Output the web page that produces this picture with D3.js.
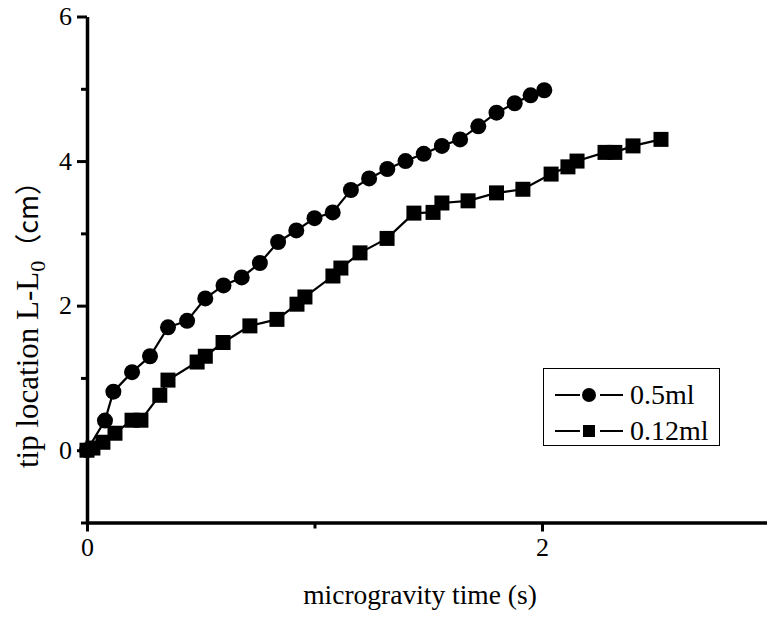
<!DOCTYPE html>
<html>
<head>
<meta charset="utf-8">
<script src="https://cdn.jsdelivr.net/npm/d3@7"></script>
<style>
  html, body { margin: 0; padding: 0; background: #fff; }
  svg { display: block; font-family: "Liberation Serif", "Times New Roman", serif; }
  .axis path, .axis line { stroke: #000; }
</style>
</head>
<body>
<div id="chart"></div>
<script>
// 0.5ml series (circles)
const timeA = [0, 0.079, 0.116, 0.198, 0.277, 0.356, 0.44, 0.52, 0.60, 0.68, 0.76, 0.84, 0.92, 1.0, 1.08, 1.16, 1.24, 1.32, 1.40, 1.48, 1.56, 1.64, 1.72, 1.80, 1.88, 1.95, 2.01];
const tipA  = [0, 0.41, 0.81, 1.08, 1.30, 1.70, 1.79, 2.10, 2.28, 2.39, 2.59, 2.88, 3.04, 3.21, 3.29, 3.60, 3.76, 3.89, 4.00, 4.10, 4.21, 4.30, 4.48, 4.67, 4.80, 4.91, 4.98];

// 0.12ml series (squares)
const timeB = [0, 0.026, 0.07, 0.123, 0.198, 0.237, 0.32, 0.356, 0.484, 0.52, 0.598, 0.716, 0.835, 0.923, 0.958, 1.081, 1.116, 1.20, 1.319, 1.437, 1.521, 1.56, 1.675, 1.80, 1.916, 2.04, 2.114, 2.154, 2.277, 2.32, 2.40, 2.523];
const tipB  = [0, 0.03, 0.11, 0.235, 0.415, 0.415, 0.76, 0.97, 1.22, 1.30, 1.49, 1.72, 1.81, 2.02, 2.12, 2.41, 2.52, 2.73, 2.93, 3.28, 3.29, 3.42, 3.45, 3.56, 3.61, 3.82, 3.92, 4.00, 4.12, 4.12, 4.21, 4.30];

const seriesNames = ["0.5ml", "0.12ml"];
const xMajor = [0, 2];
const xMinor = [1];
const yMajor = [0, 2, 4, 6];
const yMinor = [-1, 1, 3, 5];

(function () {
  const width = 767, height = 619;

  const svg = d3.select("#chart").append("svg")
    .attr("width", width)
    .attr("height", height)
    .attr("viewBox", `0 0 ${width} ${height}`);

  const x = d3.scaleLinear().domain([0, 3]).range([87, 769.5]);
  const y = d3.scaleLinear().domain([-1, 6]).range([522.5, 16.5]);

  const seriesA = timeA.map((t, i) => ({ t, v: tipA[i] }));
  const seriesB = timeB.map((t, i) => ({ t, v: tipB[i] }));

  // minor ticks
  svg.append("g")
    .attr("class", "axis")
    .attr("transform", `translate(0,${y(-1)})`)
    .call(d3.axisBottom(x).tickValues(xMinor).tickSize(6).tickSizeOuter(0).tickFormat(""))
    .call(g => g.select(".domain").remove())
    .selectAll("line").attr("stroke-width", 3);

  svg.append("g")
    .attr("class", "axis")
    .attr("transform", `translate(${x(0)},0)`)
    .call(d3.axisLeft(y).tickValues(yMinor).tickSize(6).tickSizeOuter(0).tickFormat(""))
    .call(g => g.select(".domain").remove())
    .selectAll("line").attr("stroke-width", 3);

  // major ticks + labels
  const xAxis = svg.append("g")
    .attr("class", "axis")
    .attr("transform", `translate(0,${y(-1)})`)
    .call(d3.axisBottom(x).tickValues(xMajor).tickSize(9).tickSizeOuter(0).tickPadding(6).tickFormat(d3.format("d")));
  xAxis.select(".domain").attr("stroke-width", 3.5);
  xAxis.selectAll("line").attr("stroke-width", 3);
  xAxis.selectAll("text").attr("font-size", 26).attr("fill", "#000").attr("font-family", "Liberation Serif");

  const yAxis = svg.append("g")
    .attr("class", "axis")
    .attr("transform", `translate(${x(0)},0)`)
    .call(d3.axisLeft(y).tickValues(yMajor).tickSize(10).tickSizeOuter(0).tickPadding(5).tickFormat(d3.format("d")));
  yAxis.select(".domain").attr("stroke-width", 3.5);
  yAxis.selectAll("line").attr("stroke-width", 3);
  yAxis.selectAll("text").attr("font-size", 26).attr("fill", "#000").attr("font-family", "Liberation Serif");

  // axis titles
  svg.append("text")
    .attr("x", 420)
    .attr("y", 604)
    .attr("text-anchor", "middle")
    .attr("font-size", 27.5)
    .text("microgravity time (s)");

  const yt = svg.append("text")
    .attr("transform", "rotate(-90)")
    .attr("x", -318)
    .attr("y", 38)
    .attr("text-anchor", "middle")
    .attr("font-size", 31);
  yt.append("tspan").text("tip location L-L");
  yt.append("tspan").attr("font-size", 22).attr("dy", 7).text("0");
  yt.append("tspan").attr("dy", -7).attr("font-family", "Noto Sans CJK SC").attr("font-size", 27).text("（cm）");

  const line = d3.line().x(d => x(d.t)).y(d => y(d.v));

  svg.append("path").datum(seriesA)
    .attr("fill", "none").attr("stroke", "#000").attr("stroke-width", 2.2)
    .attr("d", line);
  svg.append("path").datum(seriesB)
    .attr("fill", "none").attr("stroke", "#000").attr("stroke-width", 2.2)
    .attr("d", line);

  svg.selectAll(".dotA")
    .data(seriesA)
    .join("circle")
    .attr("cx", d => x(d.t))
    .attr("cy", d => y(d.v))
    .attr("r", 8)
    .attr("fill", "#000");

  const s = 15;
  svg.selectAll(".dotB")
    .data(seriesB)
    .join("rect")
    .attr("x", d => x(d.t) - s / 2)
    .attr("y", d => y(d.v) - s / 2)
    .attr("width", s)
    .attr("height", s)
    .attr("fill", "#000");

  // legend
  const lg = svg.append("g").attr("transform", "translate(543,368)");
  lg.append("rect")
    .attr("x", 0.5).attr("y", 0.5)
    .attr("width", 176).attr("height", 77)
    .attr("fill", "#fff").attr("stroke", "#000").attr("stroke-width", 1);

  seriesNames.forEach((name, i) => {
    const cy = 27 + i * 36;
    lg.append("line")
      .attr("x1", 12).attr("x2", 37).attr("y1", cy).attr("y2", cy)
      .attr("stroke", "#000").attr("stroke-width", 2);
    lg.append("line")
      .attr("x1", 57).attr("x2", 80).attr("y1", cy).attr("y2", cy)
      .attr("stroke", "#000").attr("stroke-width", 2);
    if (i === 0) {
      lg.append("circle").attr("cx", 46).attr("cy", cy).attr("r", 7).attr("fill", "#000");
    } else {
      lg.append("rect").attr("x", 40).attr("y", cy - 6).attr("width", 12).attr("height", 12).attr("fill", "#000");
    }
    lg.append("text")
      .attr("x", 87)
      .attr("y", cy + 9)
      .attr("font-size", 28)
      .text(name);
  });
})();
</script>
</body>
</html>
